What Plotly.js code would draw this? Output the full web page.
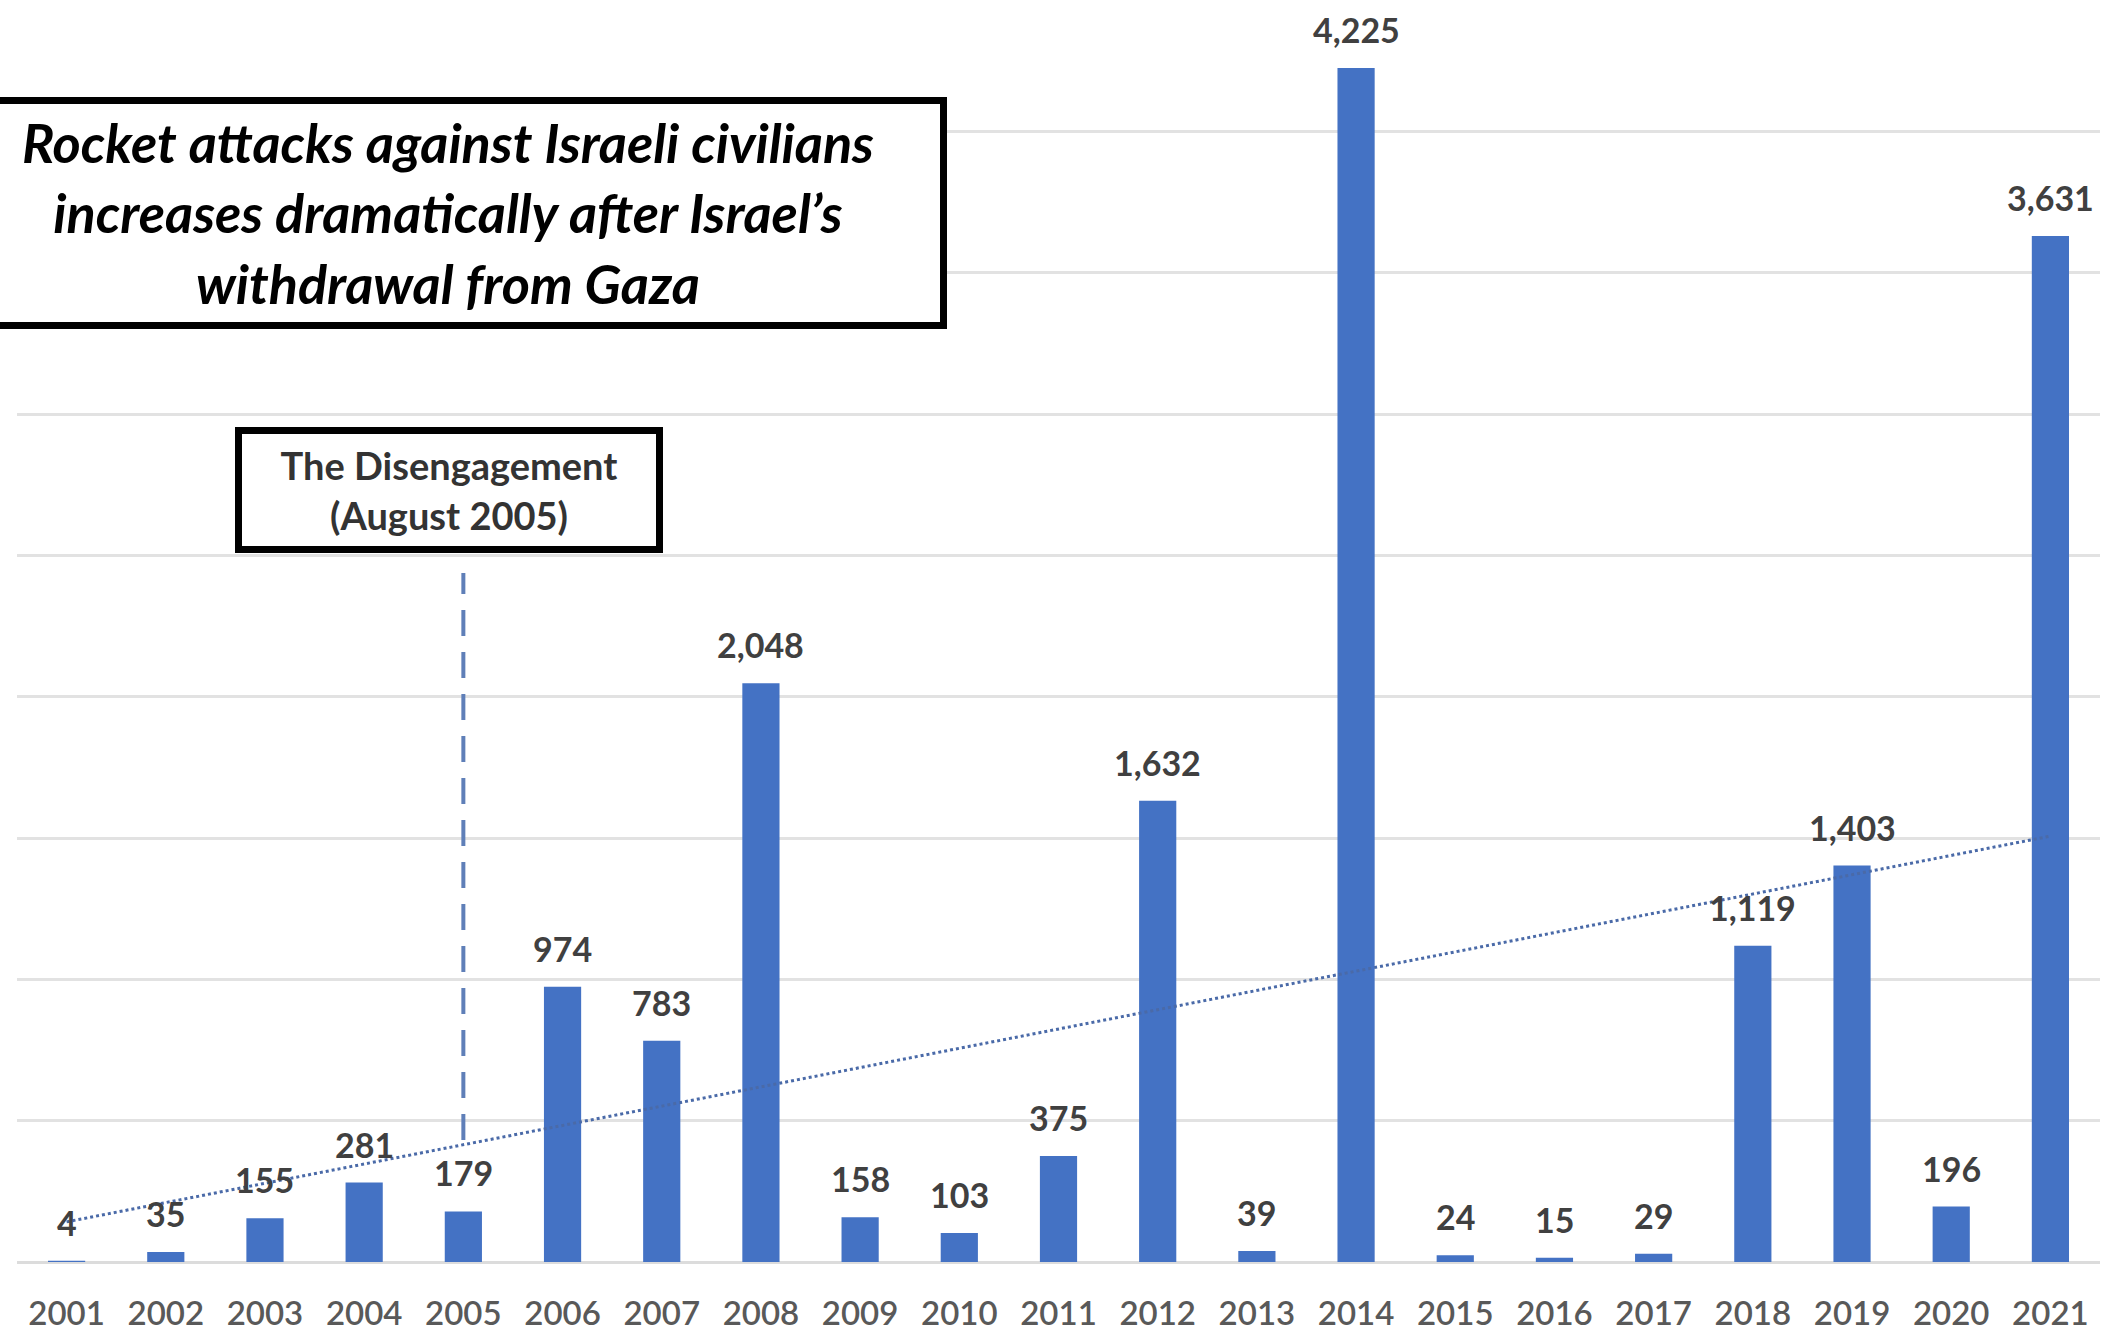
<!DOCTYPE html>
<html>
<head>
<meta charset="utf-8">
<script src="https://cdn.plot.ly/plotly-3.0.1.min.js"></script>
<style>html,body{margin:0;padding:0;background:#fff;}#chart{width:2115px;height:1333px;}</style>
</head>
<body>
<div id="chart"></div>
<script>
// ---- data ----
const years = ['2001','2002','2003','2004','2005','2006','2007','2008','2009','2010','2011','2012','2013','2014','2015','2016','2017','2018','2019','2020','2021'];
const rocketAttacks = [4, 35, 155, 281, 179, 974, 783, 2048, 158, 103, 375, 1632, 39, 4225, 24, 15, 29, 1119, 1403, 196, 3631];
// linear trendline end values
const trendYears = ['2001', '2021'];
const trendValues = [142, 1507];
// disengagement marker
const disengagementYear = '2005';
const disengagementSpan = [432, 2438];
const titleLines = ['Rocket attacks against Israeli civilians', 'increases dramatically after Israel\u2019s', 'withdrawal from Gaza'];
const markerLines = ['The Disengagement', '(August 2005)'];

const barColor = '#4472c4';
const labelFont = {family: 'Lato, "Open Sans", sans-serif', size: 34, color: '#404040', weight: 700};

// on a category axis annotations/shapes are placed by category index
const labelAnnotations = years.map((yr, i) => ({
  x: i, y: rocketAttacks[i], xref: 'x', yref: 'y',
  text: rocketAttacks[i].toLocaleString('en-US'),
  showarrow: false, yanchor: 'bottom', xanchor: 'center', yshift: 16,
  font: labelFont
}));
const disIdx = years.indexOf(disengagementYear);

const traces = [
  {
    type: 'bar', x: years, y: rocketAttacks,
    marker: {color: barColor}, hoverinfo: 'x+y'
  },
  {
    type: 'scatter', mode: 'lines', x: trendYears, y: trendValues,
    line: {color: '#4a6aa8', width: 3, dash: 'dot'}, hoverinfo: 'skip'
  }
];

const layout = {
  width: 2115, height: 1333,
  margin: {l: 17, r: 15, t: 0, b: 71, pad: 0},
  paper_bgcolor: '#ffffff', plot_bgcolor: '#ffffff',
  showlegend: false,
  bargap: 0.625,
  xaxis: {
    type: 'category', range: [-0.5, 20.5],
    showgrid: false, zeroline: false, showline: false, ticks: '',
    tickfont: {family: 'Lato, "Open Sans", sans-serif', size: 33, color: '#595959', weight: 600},
    ticklabelstandoff: 29
  },
  yaxis: {
    range: [0, 4466], dtick: 500, tick0: 0,
    showticklabels: false, ticks: '',
    showgrid: true, gridcolor: '#e2e2e2', gridwidth: 3,
    zeroline: true, zerolinecolor: '#dcdcdc', zerolinewidth: 3, showline: false
  },
  shapes: [
    {
      type: 'line', xref: 'x', yref: 'y',
      x0: disIdx, x1: disIdx,
      y0: disengagementSpan[0], y1: disengagementSpan[1],
      line: {color: '#5f7fb8', width: 4, dash: '26px,16px'}
    }
  ],
  annotations: labelAnnotations.concat([
    {
      xref: 'paper', yref: 'paper', x: 0.2069, y: 0.8316,
      xanchor: 'center', yanchor: 'middle', showarrow: false,
      text: '<b><i>' + titleLines.join('<br>') + '</i></b>',
      font: {family: 'Lato, "Open Sans", sans-serif', size: 54, color: '#000000', weight: 900},
      align: 'center', width: 984, height: 218,
      bgcolor: '#ffffff', bordercolor: '#000000', borderwidth: 7, borderpad: 0
    },
    {
      xref: 'paper', yref: 'paper', x: 0.2074, y: 0.6117,
      xanchor: 'center', yanchor: 'middle', showarrow: false,
      text: markerLines.join('<br>'),
      font: {family: 'Lato, "Open Sans", sans-serif', size: 38, color: '#333333', weight: 700},
      align: 'center', width: 414, height: 112,
      bgcolor: '#ffffff', bordercolor: '#000000', borderwidth: 7, borderpad: 0
    }
  ])
};

Plotly.newPlot('chart', traces, layout, {displayModeBar: false, staticPlot: true});
</script>
</body>
</html>
